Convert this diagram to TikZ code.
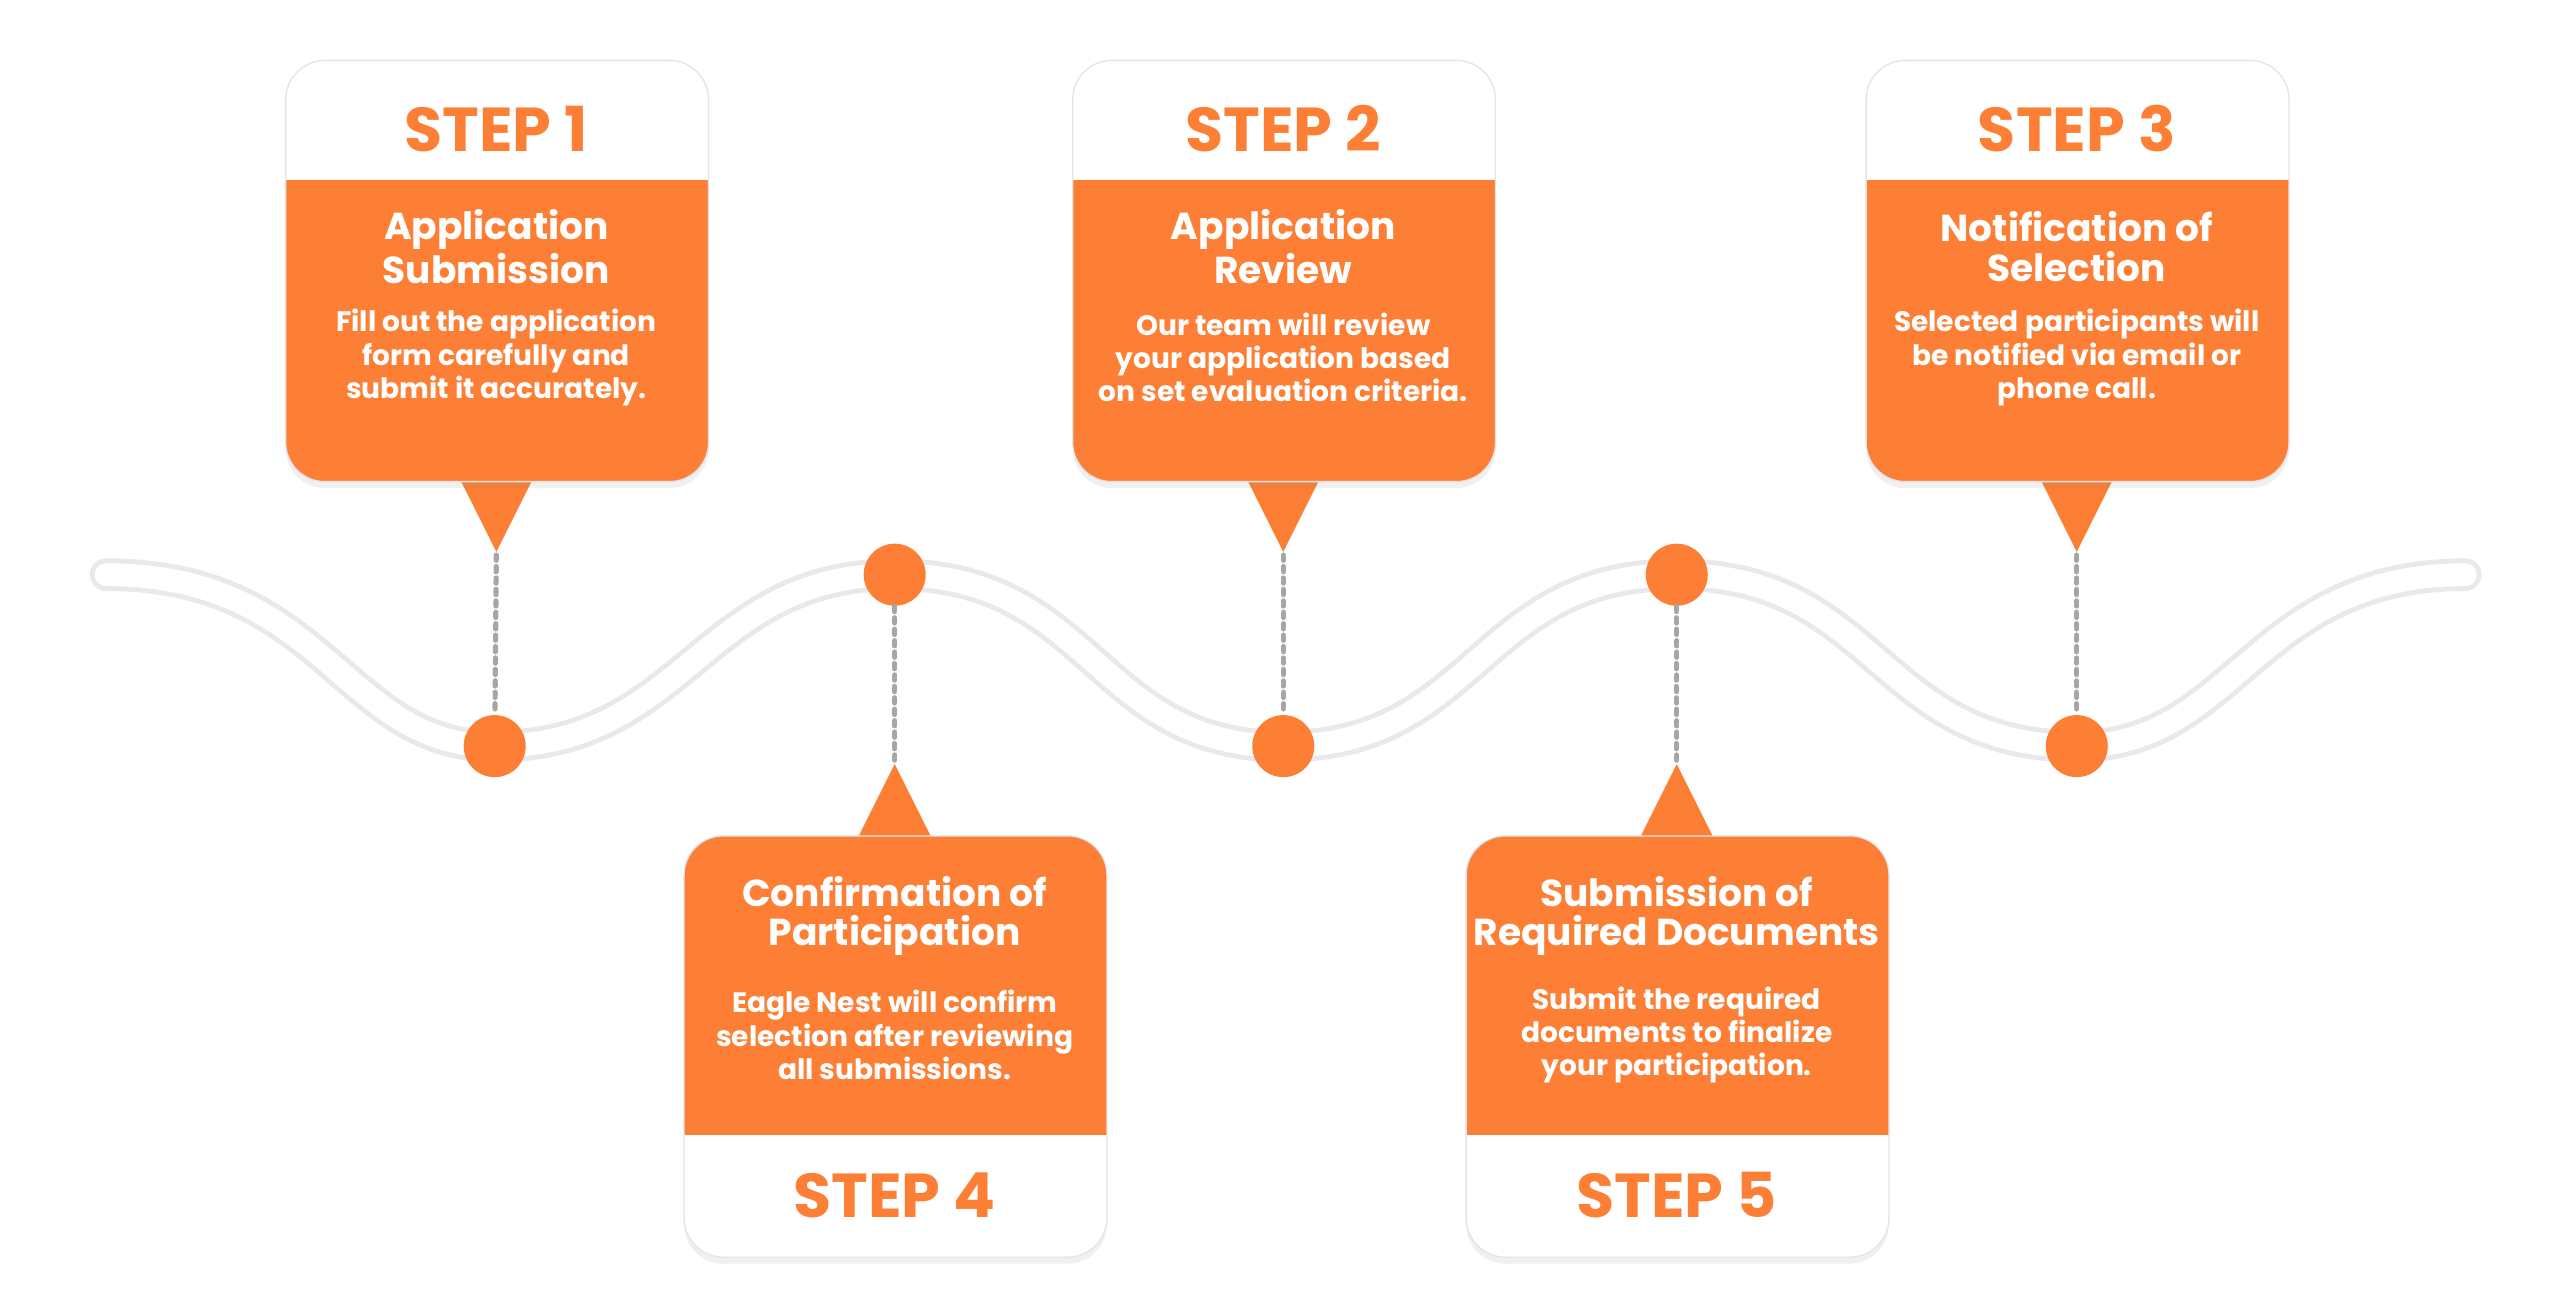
\documentclass[tikz,border=0pt]{standalone}
\usepackage{fontspec}
\setmainfont{Poppins}
\usetikzlibrary{shadows}
\definecolor{org}{HTML}{FD7F35}
\definecolor{edge}{HTML}{E4E4E8}
\begin{document}
\begin{tikzpicture}[x=0.5pt,y=-0.5pt,
  ttl/.style={font=\fontsize{19}{20}\selectfont\bfseries,text=org},
  hd/.style={font=\fontsize{11.5}{12}\selectfont\bfseries,text=white,align=center},
  bd/.style={font=\fontsize{8.6}{10.2}\selectfont\bfseries,text=white,align=center},
  dotl/.style={draw=gray!70,line width=1.6pt,dash pattern=on 1.6pt off 1.9pt,line cap=round},
  pt/.style={circle,fill=org,minimum size=19pt,inner sep=0pt}]
\useasboundingbox (0,0) rectangle (1568,802);
% wave
\def\wave{(65,352) .. controls (200,352) and (210,457) .. (303,457)
 .. controls (420,457) and (430,352) .. (548,352)
 .. controls (670,352) and (670,457) .. (786,457)
 .. controls (905,457) and (905,352) .. (1027,352)
 .. controls (1150,352) and (1150,457) .. (1272,457)
 .. controls (1370,457) and (1380,352) .. (1510,352)}
\draw[line width=10pt,edge!80,line cap=round] \wave;
\draw[line width=7pt,white,line cap=round] \wave;
% upper boxes
\foreach \x/\n/\s/\h/\b in {175/1/STEP 1/{Application\\Submission}/{Fill out the application\\form carefully and\\submit it accurately.},
 657/2/STEP 2/{Application\\Review}/{Our team will review\\your application based\\on set evaluation criteria.},
 1143/3/STEP 3/{Notification of\\Selection}/{Selected participants will\\be notified via email or\\phone call.}}{
 \pgfmathsetmacro\c{\x+129}
 \fill[org] (\c-24,290) -- (\c+24,290) -- (\c,338) -- cycle;
 \fill[white,drop shadow={opacity=0.12,shadow xshift=0pt,shadow yshift=-2pt}] [rounded corners=12pt] (\x,37) rectangle (\x+259,295);
 \begin{scope}
 \clip[rounded corners=12pt] (\x,37) rectangle (\x+259,295);
 \fill[org] (\x,110) rectangle (\x+259,295);
 \end{scope}
 \draw[edge,rounded corners=12pt] (\x,37) rectangle (\x+259,295);
 \node[ttl] (t\n) at (\c,79) {\s};
 \node[hd] (h\n) at (\c,151) {\h};
 \node[bd] (b\n) at (\c,219) {\b};
 \coordinate (tip\n) at (\c,340);
}
% lower boxes
\foreach \x/\n/\s/\h/\b in {419/4/STEP 4/{Confirmation of\\Participation}/{Eagle Nest will confirm\\selection after reviewing\\all submissions.},
 898/5/STEP 5/{Submission of\\Required Documents}/{Submit the required\\documents to finalize\\your participation.}}{
 \pgfmathsetmacro\c{\x+129}
 \fill[org] (\c-24,516) -- (\c+24,516) -- (\c,468) -- cycle;
 \fill[white,drop shadow={opacity=0.12,shadow xshift=0pt,shadow yshift=-2pt}] [rounded corners=12pt] (\x,512) rectangle (\x+259,770);
 \begin{scope}
 \clip[rounded corners=12pt] (\x,512) rectangle (\x+259,770);
 \fill[org] (\x,512) rectangle (\x+259,695);
 \end{scope}
 \draw[edge,rounded corners=12pt] (\x,512) rectangle (\x+259,770);
 \node[ttl] (t\n) at (\c,732) {\s};
 \node[hd] (h\n) at (\c,561) {\h};
 \node[bd] (b\n) at (\c,634) {\b};
 \coordinate (tip\n) at (\c,466);
}
% dots
\node[pt] (d1) at (303,457) {};
\node[pt] (d2) at (786,457) {};
\node[pt] (d3) at (1272,457) {};
\node[pt] (d4) at (548,352) {};
\node[pt] (d5) at (1027,352) {};
\foreach \n in {1,2,3}{\draw[dotl] (tip\n) -- (d\n);}
\foreach \n in {4,5}{\draw[dotl] (d\n) -- (tip\n);}
\end{tikzpicture}
\end{document}
